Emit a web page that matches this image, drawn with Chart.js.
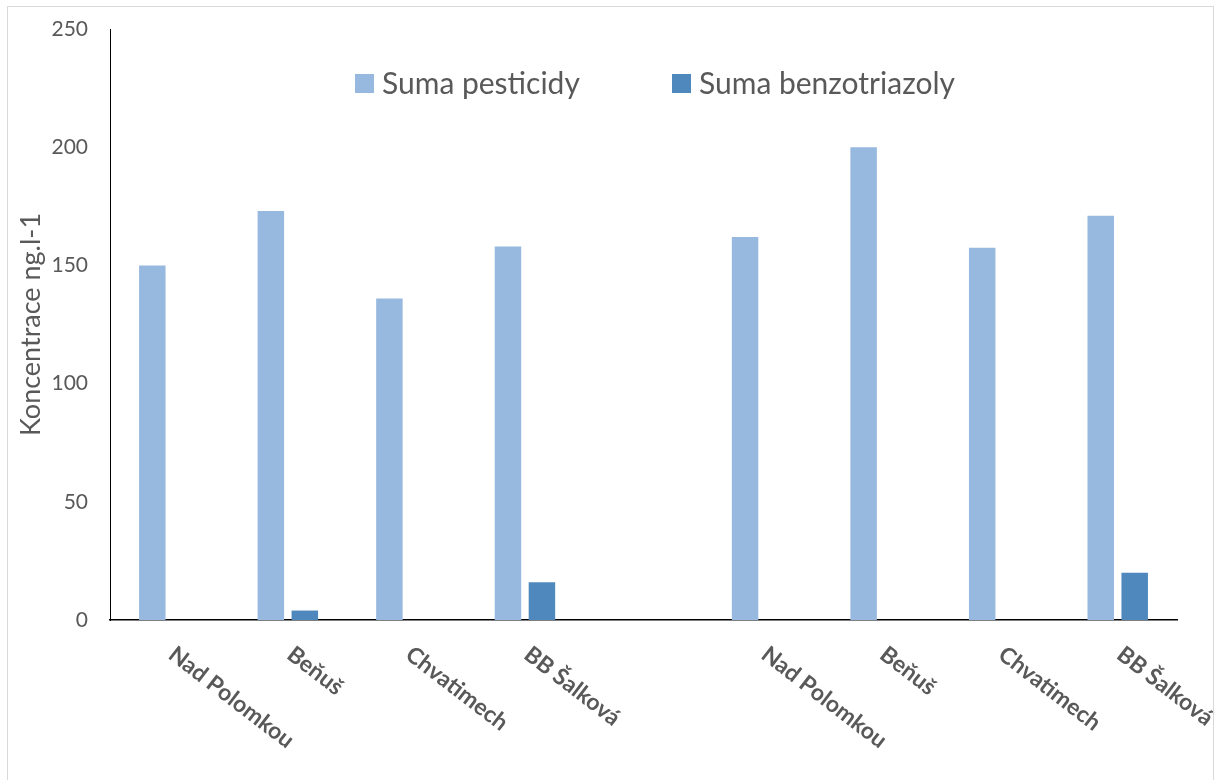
<!DOCTYPE html>
<html>
<head>
<meta charset="utf-8">
<script src="https://cdn.jsdelivr.net/npm/chart.js@4/dist/chart.umd.min.js"></script>
<style>
  html, body { margin: 0; padding: 0; background: #fff; }
  #wrap { position: relative; width: 1217px; height: 780px; }
  #frame { position: absolute; left: 7px; top: 6px; width: 1207px; height: 790px; border: 1px solid #d9d9d9; box-sizing: border-box; pointer-events: none; }
  canvas { position: absolute; left: 0; top: 0; }
</style>
</head>
<body>
<div id="wrap">
  <canvas id="c" width="1217" height="780"></canvas>
  <div id="frame"></div>
</div>
<script>
// Sampling sites (blank slot separates the two sampling campaigns)
const sites = ["Nad Polomkou", "Beňuš", "Chvatimech", "BB Šalková", "", "Nad Polomkou", "Beňuš", "Chvatimech", "BB Šalková"];
// Sum of pesticides, ng/l
const pesticides = [150, 173, 136, 158, null, 162, 200, 157.5, 171];
// Sum of benzotriazoles, ng/l
const benzotriazoles = [null, 4, null, 16, null, null, null, null, 20];
const yTicks = [0, 50, 100, 150, 200, 250];

const seriesNames = ["Suma pesticidy", "Suma benzotriazoly"];
const seriesColors = ["#98b9df", "#4f88bc"];
const textColor = "#595959";

// Slanted category labels, positioned from the x scale
const slantedLabels = {
  id: "slantedLabels",
  afterDraw(chart) {
    const ctx = chart.ctx;
    const xs = chart.scales.x;
    const y0 = chart.chartArea.bottom;
    ctx.save();
    ctx.font = "bold 23px Lato";
    ctx.fillStyle = textColor;
    ctx.textAlign = "left";
    ctx.textBaseline = "alphabetic";
    sites.forEach((name, i) => {
      if (!name) return;
      const x = xs.getPixelForValue(i);
      ctx.save();
      ctx.translate(x + 8, y0 + 24);
      ctx.rotate(37.5 * Math.PI / 180);
      ctx.fillText(name, 0, 17);
      ctx.restore();
    });
    ctx.restore();
  }
};

// Legend placed inside the plot area
const innerLegend = {
  id: "innerLegend",
  afterDraw(chart) {
    const ctx = chart.ctx;
    const items = [
      { x: 355, label: seriesNames[0], color: seriesColors[0] },
      { x: 672, label: seriesNames[1], color: seriesColors[1] }
    ];
    ctx.save();
    ctx.font = "30px Lato";
    ctx.textBaseline = "alphabetic";
    items.forEach(it => {
      ctx.fillStyle = it.color;
      ctx.fillRect(it.x, 74, 19, 19);
      ctx.fillStyle = textColor;
      ctx.fillText(it.label, it.x + 27, 94);
    });
    ctx.restore();
  }
};

new Chart(document.getElementById("c"), {
  type: "bar",
  data: {
    labels: sites,
    datasets: [
      { label: seriesNames[0], data: pesticides, backgroundColor: seriesColors[0], borderWidth: 0 },
      { label: seriesNames[1], data: benzotriazoles, backgroundColor: seriesColors[1], borderWidth: 0 }
    ]
  },
  options: {
    responsive: false,
    animation: false,
    devicePixelRatio: 1,
    categoryPercentage: 0.573,
    barPercentage: 0.78,
    layout: { padding: { left: 0, top: 29, right: 40, bottom: 160 } },
    plugins: { legend: { display: false }, tooltip: { enabled: false } },
    scales: {
      x: {
        grid: { display: false, drawTicks: false },
        border: { display: true, color: "#000", width: 1.5 },
        ticks: { display: false }
      },
      y: {
        min: 0,
        max: 250,
        afterBuildTicks: scale => { scale.ticks = yTicks.map(v => ({ value: v })); },
        afterFit: scale => { scale.width = 110; scale.paddingTop = 12; scale.paddingBottom = 12; },
        grid: { display: false, drawTicks: false },
        border: { display: true, color: "#000", width: 1 },
        ticks: { color: textColor, font: { family: "Lato", size: 21 }, padding: 22 },
        title: {
          display: true,
          text: "Koncentrace ng.l-1",
          color: textColor,
          font: { family: "Lato", size: 27 },
          padding: { top: 15, bottom: 0 }
        }
      }
    }
  },
  plugins: [slantedLabels, innerLegend]
});
</script>
</body>
</html>
